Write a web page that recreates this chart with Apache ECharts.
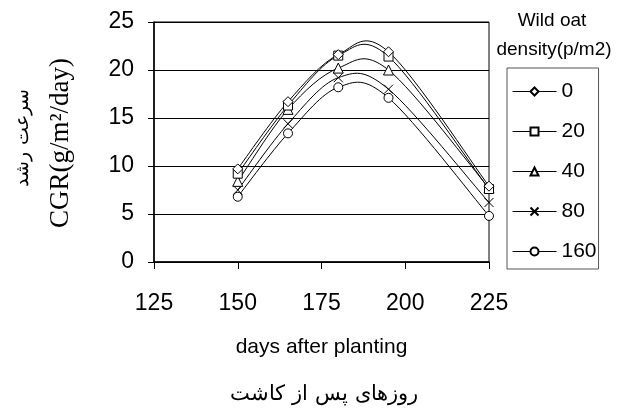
<!DOCTYPE html>
<html><head><meta charset="utf-8">
<script src="https://cdn.jsdelivr.net/npm/echarts@6/dist/echarts.min.js"></script>
<style>html,body{margin:0;padding:0;background:#fff}#c{width:618px;height:412px}</style>
</head><body><div id="c"></div>
<script>
var days = [150, 165, 180, 195, 225];
var seriesNames = ['0', '20', '40', '80', '160'];
var cgr0 = [9.7, 16.7, 21.6, 21.9, 7.9];
var cgr20 = [9.2, 16.3, 21.5, 21.4, 7.6];
var cgr40 = [8.4, 15.9, 20.2, 20.0, 7.7];
var cgr80 = [7.5, 14.4, 19.2, 18.0, 6.2];
var cgr160 = [6.8, 13.4, 18.2, 17.1, 4.8];
var xTicks = [125, 150, 175, 200, 225];
var yTicks = [0, 5, 10, 15, 20, 25];

var values = [cgr0, cgr20, cgr40, cgr80, cgr160];
var symbols = ['diamond', 'rect', 'triangle', 'path://M0,0L10,10M10,0L0,10', 'circle'];
var sizes = [10, 9, 10, 9, 9];

var chart = echarts.init(document.getElementById('c'));

// Excel-like smoothed curve (Catmull-Rom style Bezier) drawn in axis coordinates
function curveRenderer(v) {
  return function (params, api) {
    if (params.dataIndex !== 0) return null;
    var pts = days.map(function (d, j) { return api.coord([d, v[j]]); });
    var children = [];
    for (var k = 0; k < pts.length - 1; k++) {
      var p0 = pts[k - 1] || pts[k], p1 = pts[k], p2 = pts[k + 1], p3 = pts[k + 2] || pts[k + 1];
      children.push({
        type: 'bezierCurve',
        shape: {
          x1: p1[0], y1: p1[1], x2: p2[0], y2: p2[1],
          cpx1: p1[0] + (p2[0] - p0[0]) / 6, cpy1: p1[1] + (p2[1] - p0[1]) / 6,
          cpx2: p2[0] - (p3[0] - p1[0]) / 6, cpy2: p2[1] - (p3[1] - p1[1]) / 6
        },
        style: { stroke: '#000', fill: null, lineWidth: 1 }
      });
    }
    return { type: 'group', children: children };
  };
}

var series = [];
values.forEach(function (v, i) {
  series.push({
    type: 'custom',
    renderItem: curveRenderer(v),
    data: days.map(function (d, j) { return [d, v[j]]; }),
    encode: { x: 0, y: 1 },
    silent: true,
    z: 1
  });
});
values.forEach(function (v, i) {
  series.push({
    name: seriesNames[i],
    type: 'line',
    data: days.map(function (d, j) { return [d, v[j]]; }),
    symbol: symbols[i],
    symbolSize: sizes[i],
    showAllSymbol: true,
    lineStyle: { color: '#000', width: 0, opacity: 0 },
    itemStyle: { color: '#fff', borderColor: '#000', borderWidth: 1 },
    z: 10 - i
  });
});

chart.setOption({
  animation: false,
  backgroundColor: '#fff',
  grid: { left: 154, right: 129, top: 22, bottom: 150, show: true, borderColor: '#000', borderWidth: 1 },
  xAxis: {
    type: 'value', min: xTicks[0], max: xTicks[xTicks.length - 1], interval: 25,
    axisLine: { show: true, onZero: false, lineStyle: { color: '#000', width: 1.5 } },
    axisTick: { show: true, length: 7, inside: false, lineStyle: { color: '#000' } },
    axisLabel: { color: '#000', fontFamily: 'Liberation Sans, Arial', fontSize: 23, margin: 30 },
    splitLine: { show: false },
    name: 'days after planting', nameLocation: 'middle', nameGap: 75,
    nameTextStyle: { color: '#000', fontFamily: 'Liberation Sans, Arial', fontSize: 21 }
  },
  yAxis: {
    type: 'value', min: yTicks[0], max: yTicks[yTicks.length - 1], interval: 5,
    axisLine: { show: true, lineStyle: { color: '#000', width: 1.5 } },
    axisTick: { show: true, length: 6, inside: false, lineStyle: { color: '#000' } },
    axisLabel: { color: '#000', fontFamily: 'Liberation Sans, Arial', fontSize: 23, margin: 20 },
    splitLine: { show: true, lineStyle: { color: '#000', width: 1 } }
  },
  legend: {
    orient: 'vertical', left: 507, top: 68,
    borderColor: '#555', borderWidth: 1, padding: [13, 2, 7, 5],
    itemWidth: 44, itemHeight: 10, itemGap: 19,
    lineStyle: { color: '#000', width: 1, opacity: 1 },
    textStyle: { color: '#000', fontFamily: 'Liberation Sans, Arial', fontSize: 21 },
    data: seriesNames
  },
  graphic: [
    { type: 'text', x: 552, y: 21, style: { text: 'Wild oat', font: '19px "Liberation Sans", Arial', fill: '#000', align: 'center', verticalAlign: 'middle' } },
    { type: 'text', x: 554, y: 50, style: { text: 'density(p/m2)', font: '19px "Liberation Sans", Arial', fill: '#000', align: 'center', verticalAlign: 'middle' } },
    { type: 'text', x: 61, y: 143, rotation: Math.PI / 2, style: { text: 'CGR(g/m²/day)', font: '27px "Liberation Serif", "Times New Roman", serif', fill: '#000', align: 'center', verticalAlign: 'middle' } },
    { type: 'text', x: 23, y: 138, rotation: Math.PI / 2, style: { text: 'سرعت رشد', font: '19px "DejaVu Serif", serif', fill: '#000', align: 'center', verticalAlign: 'middle' } },
    { type: 'text', x: 324, y: 395, style: { text: 'روزهای پس از کاشت', font: '21px "DejaVu Serif", serif', fill: '#000', align: 'center', verticalAlign: 'middle' } }
  ],
  series: series
});
</script></body></html>
